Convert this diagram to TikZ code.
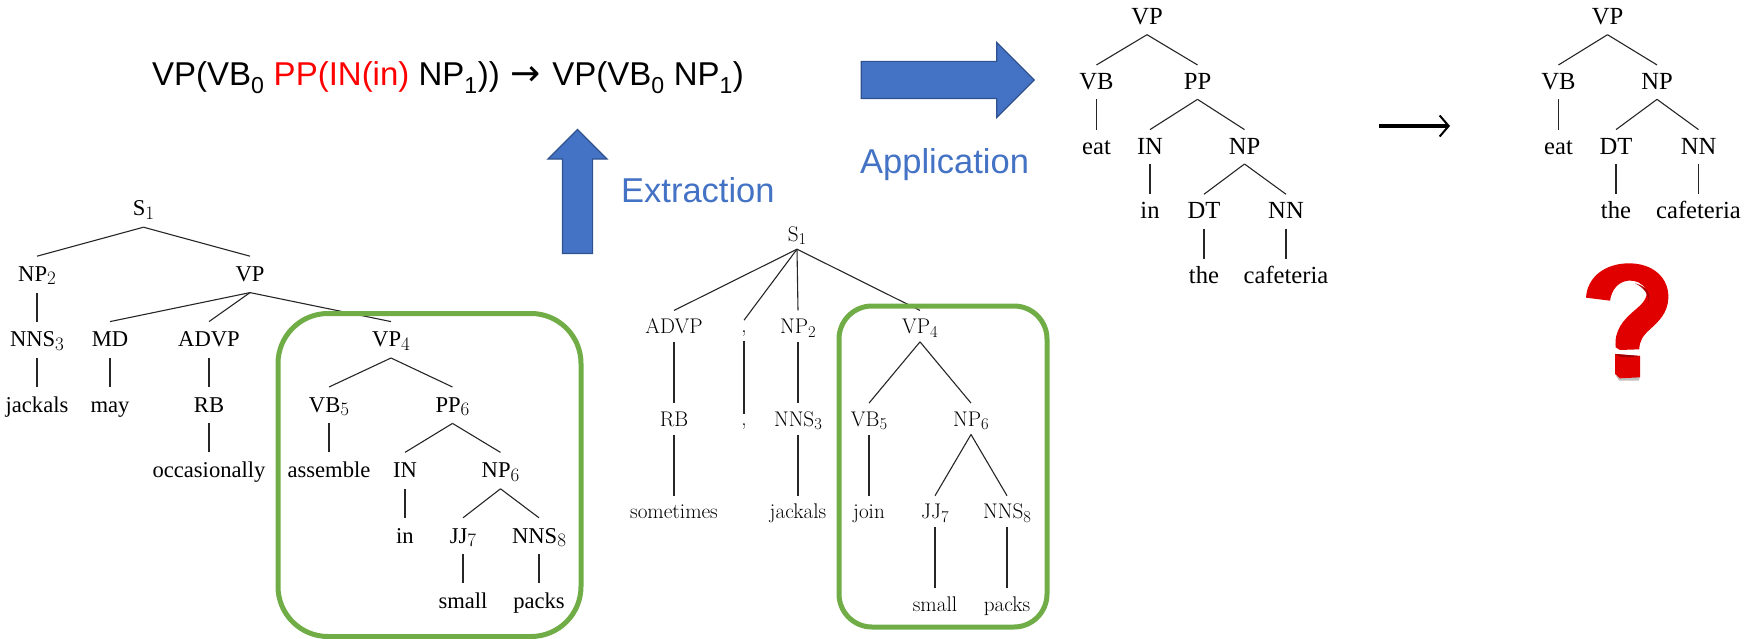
\documentclass[tikz,border=0pt]{standalone}
\usepackage{fontspec}
\newfontfamily\timesfont{Liberation Serif}
\newfontfamily\arialfont{Liberation Sans}
\newfontfamily\arrowfont{DejaVu Sans}
\usepackage{xcolor}
\usepackage{tikz}
\usetikzlibrary{arrows.meta, positioning, shapes.arrows}
\definecolor{ruleblue}{HTML}{4472C4}
\definecolor{ruleedge}{HTML}{2F528F}
\definecolor{boxgreen}{HTML}{70AD47}
\definecolor{markred}{HTML}{E00000}
\newcommand{\subsize}{16.5}
\newcommand{\tsub}[1]{\raisebox{-3.5pt}{\rmfamily\fontsize{\subsize}{17}\selectfont #1}}

\begin{document}
\begin{tikzpicture}[
		x=1pt, y=-1pt,
		node distance=29pt,
		tnode/.style={inner xsep=0pt, inner ysep=9pt, text height=16pt, text depth=2pt, align=center, font=\timesfont\fontsize{22.6}{24}\selectfont\def\subsize{19}},
		cnode/.style={inner xsep=0pt, inner ysep=8pt, text height=15pt, text depth=0pt, align=center, font=\fontsize{21.2}{23}\selectfont\addfontfeature{FakeBold=0.25}},
		rnode/.style={inner xsep=0pt, inner ysep=8.5pt, text height=16pt, text depth=1pt, align=center, font=\timesfont\fontsize{24.6}{26}\selectfont},
		edge/.style={line width=1.1pt, black!85},
		blockarrow/.style={single arrow, draw=ruleedge, line width=1.2pt, fill=ruleblue, single arrow tip angle=90},
		bluelabel/.style={anchor=base west, inner sep=0pt, text=ruleblue, font=\arialfont\fontsize{34.5}{36}\selectfont},
		greenbox/.style={draw=boxgreen, line width=5pt, rounded corners=#1, inner sep=0pt}
		]
		\useasboundingbox (0,0) rectangle (1751,639);
		
		% Rule
		\node[anchor=base west, inner sep=0pt, font=\arialfont\fontsize{33}{35}\selectfont] (rule) at (152,86)
		{VP(VB\textsubscript{0} \textcolor{red}{PP(IN(in)} NP\textsubscript{1}))\hspace{2pt} {\arrowfont\fontsize{36}{36}\selectfont →}\hspace{2pt} VP(VB\textsubscript{0} NP\textsubscript{1})};
		
		% Block arrows
		\node[blockarrow, inner sep=18pt, minimum height=173pt, single arrow head extend=19pt] (apply) at (938.5,80) {};
		\node[blockarrow, inner sep=14.5pt, shape border rotate=90, minimum height=124pt, single arrow head extend=14.5pt] (extract) at (577.5,199) {};
		\node[bluelabel] (extractlabel) at (621,203) {Extraction};
		\node[bluelabel] (applylabel) at (860,174) {Application};
		
		% Left tree
		\node[tnode, anchor=base] (ls) at (143.5,216) {S\tsub{1}};
		\node[tnode, below=of ls, xshift=-106.5pt] (lnp) {NP\tsub{2}};
		\node[tnode, below=of ls, xshift=106.5pt] (lvp) {VP};
		\node[tnode, below=of lnp] (lnns) {NNS\tsub{3}};
		\node[tnode, below=of lnns] (ljackals) {jackals};
		\node[tnode, below=of lvp, xshift=-140pt] (lmd) {MD};
		\node[tnode, below=of lmd] (lmay) {may};
		\node[tnode, below=of lvp, xshift=-41pt] (ladvp) {ADVP};
		\node[tnode, below=of ladvp] (lrb) {RB};
		\node[tnode, below=of lrb] (loccasionally) {occasionally};
		\node[tnode, below=of lvp, xshift=141pt] (lvpf) {VP\tsub{4}};
		\node[tnode, below=of lvpf, xshift=-62pt] (lvb) {VB\tsub{5}};
		\node[tnode, below=of lvb] (lassemble) {assemble};
		\node[tnode, below=of lvpf, xshift=61.5pt] (lpp) {PP\tsub{6}};
		\node[tnode, below=of lpp, xshift=-47.5pt] (lin) {IN};
		\node[tnode, below=of lin] (linw) {in};
		\node[tnode, below=of lpp, xshift=48pt] (lnps) {NP\tsub{6}};
		\node[tnode, below=of lnps, xshift=-37.5pt] (ljj) {JJ\tsub{7}};
		\node[tnode, below=of ljj] (lsmall) {small};
		\node[tnode, below=of lnps, xshift=38.5pt] (lnnse) {NNS\tsub{8}};
		\node[tnode, below=of lnnse] (lpacks) {packs};
		
		\draw[edge] (ls.south) -- (lnp.north);
		\draw[edge] (ls.south) -- (lvp.north);
		\draw[edge] (lnp.south) -- (lnns.north);
		\draw[edge] (lnns.south) -- (ljackals.north);
		\draw[edge] (lvp.south) -- (lmd.north);
		\draw[edge] (lvp.south) -- (ladvp.north);
		\draw[edge] (lvp.south) -- (lvpf.north);
		\draw[edge] (lmd.south) -- (lmay.north);
		\draw[edge] (ladvp.south) -- (lrb.north);
		\draw[edge] (lrb.south) -- (loccasionally.north);
		\draw[edge] (lvpf.south) -- (lvb.north);
		\draw[edge] (lvpf.south) -- (lpp.north);
		\draw[edge] (lvb.south) -- (lassemble.north);
		\draw[edge] (lpp.south) -- (lin.north);
		\draw[edge] (lpp.south) -- (lnps.north);
		\draw[edge] (lin.south) -- (linw.north);
		\draw[edge] (lnps.south) -- (ljj.north);
		\draw[edge] (lnps.south) -- (lnnse.north);
		\draw[edge] (ljj.south) -- (lsmall.north);
		\draw[edge] (lnnse.south) -- (lpacks.north);
		
		% Middle tree
		\begin{scope}[node distance=61.25pt]
			\node[cnode, anchor=base] (ms) at (797,241) {S\tsub{1}};
			\node[cnode, below=of ms, xshift=-123pt] (madvp) {ADVP};
			\node[cnode, below=of madvp] (mrb) {RB};
			\node[cnode, below=of mrb] (msometimes) {sometimes};
			\node[cnode, text height=4pt, below=71pt of ms, xshift=-53pt] (mcomma) {,};
			\node[cnode, text height=4pt, below=73pt of mcomma] (mcommaw) {,};
			\node[cnode, below=of ms, xshift=1pt] (mnp) {NP\tsub{2}};
			\node[cnode, below=of mnp] (mnns) {NNS\tsub{3}};
			\node[cnode, below=of mnns] (mjackals) {jackals};
			\node[cnode, below=of ms, xshift=123pt] (mvp) {VP\tsub{4}};
			\node[cnode, below=of mvp, xshift=-51pt] (mvb) {VB\tsub{5}};
			\node[cnode, below=of mvb] (mjoin) {join};
			\node[cnode, below=of mvp, xshift=51pt] (mnps) {NP\tsub{6}};
			\node[cnode, below=of mnps, xshift=-36pt] (mjj) {JJ\tsub{7}};
			\node[cnode, below=of mjj] (msmall) {small};
			\node[cnode, below=of mnps, xshift=36pt] (mnnse) {NNS\tsub{8}};
			\node[cnode, below=of mnnse] (mpacks) {packs};
		\end{scope}
		
		\draw[edge] (ms.south) -- (madvp.north);
		\draw[edge] (ms.south) -- (mcomma.north);
		\draw[edge] (ms.south) -- (mnp.north);
		\draw[edge] (ms.south) -- (mvp.north);
		\draw[edge] (madvp.south) -- (mrb.north);
		\draw[edge] (mrb.south) -- (msometimes.north);
		\draw[edge] (mcomma.south) -- (mcommaw.north);
		\draw[edge] (mnp.south) -- (mnns.north);
		\draw[edge] (mnns.south) -- (mjackals.north);
		\draw[edge] (mvp.south) -- (mvb.north);
		\draw[edge] (mvp.south) -- (mnps.north);
		\draw[edge] (mvb.south) -- (mjoin.north);
		\draw[edge] (mnps.south) -- (mjj.north);
		\draw[edge] (mnps.south) -- (mnnse.north);
		\draw[edge] (mjj.south) -- (msmall.north);
		\draw[edge] (mnnse.south) -- (mpacks.north);
		
		% Right trees
		\begin{scope}[node distance=30.25pt]
			\node[rnode, anchor=base] (avp) at (1147,25) {VP};
			\node[rnode, below=of avp, xshift=-50.5pt] (avb) {VB};
			\node[rnode, below=of avb] (aeat) {eat};
			\node[rnode, below=of avp, xshift=50.5pt] (app) {PP};
			\node[rnode, below=of app, xshift=-47.5pt] (ain) {IN};
			\node[rnode, below=of ain] (ainw) {in};
			\node[rnode, below=of app, xshift=47pt] (anp) {NP};
			\node[rnode, below=of anp, xshift=-40.5pt] (adt) {DT};
			\node[rnode, below=of adt] (athe) {the};
			\node[rnode, below=of anp, xshift=41.5pt] (ann) {NN};
			\node[rnode, below=of ann] (acafeteria) {cafeteria};
			
			\node[rnode, anchor=base] (bvp) at (1607.5,25) {VP};
			\node[rnode, below=of bvp, xshift=-49pt] (bvb) {VB};
			\node[rnode, below=of bvb] (beat) {eat};
			\node[rnode, below=of bvp, xshift=49.5pt] (bnp) {NP};
			\node[rnode, below=of bnp, xshift=-41pt] (bdt) {DT};
			\node[rnode, below=of bdt] (bthe) {the};
			\node[rnode, below=of bnp, xshift=41.5pt] (bnn) {NN};
			\node[rnode, below=of bnn] (bcafeteria) {cafeteria};
		\end{scope}
		
		\draw[edge] (avp.south) -- (avb.north);
		\draw[edge] (avp.south) -- (app.north);
		\draw[edge] (avb.south) -- (aeat.north);
		\draw[edge] (app.south) -- (ain.north);
		\draw[edge] (app.south) -- (anp.north);
		\draw[edge] (ain.south) -- (ainw.north);
		\draw[edge] (anp.south) -- (adt.north);
		\draw[edge] (anp.south) -- (ann.north);
		\draw[edge] (adt.south) -- (athe.north);
		\draw[edge] (ann.south) -- (acafeteria.north);
		
		\draw[edge] (bvp.south) -- (bvb.north);
		\draw[edge] (bvp.south) -- (bnp.north);
		\draw[edge] (bvb.south) -- (beat.north);
		\draw[edge] (bnp.south) -- (bdt.north);
		\draw[edge] (bnp.south) -- (bnn.north);
		\draw[edge] (bdt.south) -- (bthe.north);
		\draw[edge] (bnn.south) -- (bcafeteria.north);
		
		% Green boxes
		\node[greenbox=50pt, minimum width=303pt, minimum height=323pt] (leftbox) at (429.5,475) {};
		\node[greenbox=33pt, minimum width=208pt, minimum height=321pt] (midbox) at (943,466.5) {};
		
		% Arrow between the right trees
		\coordinate (arrowstart) at (1379,126);
		\coordinate (arrowend) at (1450,126);
		\draw[line width=4pt, -{Straight Barb[length=9pt, width=21pt, line width=2pt]}] (arrowstart) -- (arrowend);
		
		% Question mark
		\begin{scope}[shift={(1540,250)}, x=0.3333pt, y=-0.3333pt]
			\fill[black!25] (228,378) -- (300,382) -- (296,392) -- (238,392) -- cycle;
			\fill[markred] (138,143) .. controls (142,80) and (195,42) .. (262,40)
				.. controls (340,38) and (388,85) .. (385,145)
				.. controls (383,190) and (355,215) .. (330,238)
				.. controls (310,256) and (298,272) .. (298,298)
				-- (240,300) -- (227,292)
				.. controls (222,240) and (250,210) .. (285,180)
				.. controls (312,158) and (325,140) .. (318,120)
				.. controls (308,98) and (285,90) .. (265,92)
				.. controls (235,95) and (215,118) .. (210,152) -- cycle;
			\fill[markred!75!black] (285,100) .. controls (318,108) and (335,130) .. (325,160)
				.. controls (328,135) and (312,112) .. (285,100) -- cycle;
			\fill[markred] (225,312) -- (300,318) -- (300,382) -- (240,385) -- (225,372) -- cycle;
			\fill[markred!70!black] (225,312) -- (300,318) -- (270,322) -- (240,320) -- cycle;
		\end{scope}
		
	\end{tikzpicture}
\end{document}
